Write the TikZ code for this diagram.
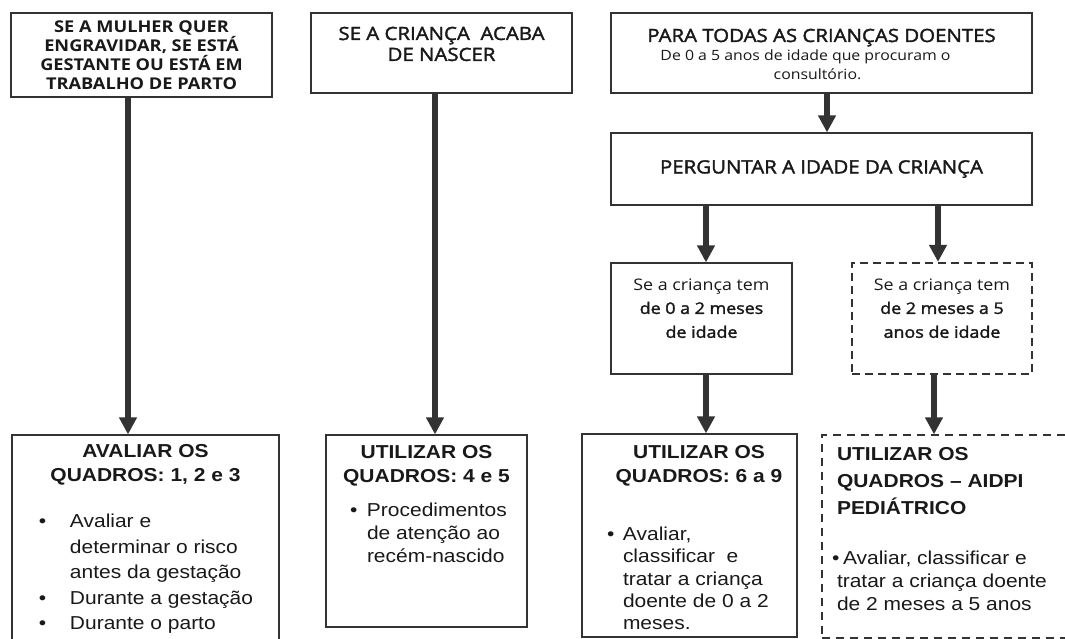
\documentclass[tikz,border=0pt]{standalone}
\usepackage{fontspec}
\setmainfont{Liberation Sans}[FakeStretch=1.12]
\newfontfamily\osans{Open Sans}[FakeStretch=1.12]
\newfontfamily\osmed{Open Sans}[FakeStretch=1.12,FakeBold=2]
\usetikzlibrary{arrows.meta}

\begin{document}
\begin{tikzpicture}[
  box/.style={draw=black!80,line width=1.2bp,inner sep=0pt,text=black!90},
  dbox/.style={box,line width=2.2bp,dash pattern=on 8bp off 5bp},
  tbox/.style={box,line width=1.3bp,dash pattern=on 8bp off 6bp},
  flow/.style={draw=black!80,line width=6.5bp,-{Triangle[length=17bp,width=17bp]}}]
\useasboundingbox (0,0) rectangle (1065bp,-639bp);
\clip (0,0) rectangle (1065bp,-639bp);

% columns of the arrows
\coordinate (c1) at (128bp,0);
\coordinate (c2) at (435bp,0);
\coordinate (c3) at (827bp,0);
\coordinate (c4) at (706bp,0);
\coordinate (c5) at (938bp,0);
\coordinate (c6) at (934bp,0);

% top row
\node (SM) at (141.5bp,-55bp)[box] {\parbox[c][84bp][t]{261bp}{\centering\osans\bfseries\fontsize{16.3}{19}\selectfont
  \rule{0pt}{20bp}SE A MULHER QUER\\ENGRAVIDAR, SE ESTÁ\\GESTANTE OU ESTÁ EM\\TRABALHO DE PARTO}};
\node (RN) at (441.5bp,-53bp)[box] {\parbox[c][80bp][t]{261bp}{\centering\osmed\fontsize{18.3}{21}\selectfont
  \rule{0pt}{27bp}SE A CRIANÇA\ \ ACABA\\DE NASCER}};
\node (TD) at (821.5bp,-53bp)[box] {\parbox[c][80bp][t]{421bp}{\centering\fontsize{16}{19}\selectfont
  \rule{0pt}{29bp}{\osmed\fontsize{18.3}{19}\selectfont PARA TODAS AS CRIANÇAS DOENTES}\\{\osans\fontsize{14.2}{19}\selectfont
  \hspace*{-32bp}De 0 a 5 anos de idade que procuram o\\\hspace*{-8bp}consultório.}}};
\node (PI) at (821.5bp,-169bp)[box,minimum width=421bp,minimum height=72bp] {\osmed\fontsize{18.3}{19}\selectfont PERGUNTAR A IDADE DA CRIANÇA};

% age boxes
\node (CA) at (701.5bp,-318.5bp)[box] {\parbox[c][111bp][t]{181bp}{\centering\fontsize{16}{24}\selectfont
  \rule{0pt}{27bp}{\osans Se a criança tem}\\{\osmed de 0 a 2 meses\\de idade}}};
\node (CB) at (942bp,-318.5bp)[dbox] {\parbox[c][111bp][t]{180bp}{\centering\fontsize{16}{24}\selectfont
  \rule{0pt}{27bp}{\osans Se a criança tem}\\{\osmed de 2 meses a 5\\anos de idade}}};

% bottom row
\node (QA) at (145.5bp,-555bp)[box] {\parbox[c][240bp][t]{267bp}{\fontsize{18.8}{25}\selectfont
  {\centering\bfseries\rule{0pt}{22bp}AVALIAR OS\\QUADROS: 1, 2 e 3\par}
  \vspace{20.5bp}\fontsize{18.8}{25.5}\selectfont
  \begin{tabular}[t]{@{\hspace*{27bp}}p{31bp}@{}l@{}}
  \textbullet & Avaliar e\\ & determinar o risco\\ & antes da gestação\\
  \textbullet & Durante a gestação\\ \textbullet & Durante o parto
  \end{tabular}}};
\node (QB) at (426.5bp,-531bp)[box] {\parbox[c][192bp][t]{201bp}{\fontsize{18.8}{25}\selectfont
  {\centering\bfseries\rule{0pt}{23bp}UTILIZAR OS\\QUADROS: 4 e 5\par}
  \vspace{11bp}\fontsize{18.8}{23}\selectfont
  \begin{tabular}[t]{@{\hspace*{24bp}}p{17bp}@{}l@{}}
  \textbullet & Procedimentos\\ & de atenção ao\\ & recém-nascido
  \end{tabular}}};
\node (QC) at (689.5bp,-535.5bp)[box] {\parbox[c][203bp][t]{215bp}{\fontsize{18.8}{25}\selectfont
  {\centering\bfseries\rule{0pt}{24bp}\hspace*{19bp}UTILIZAR OS\\\hspace*{19bp}QUADROS: 6 a 9\par}
  \vspace{35bp}\fontsize{18.8}{22.5}\selectfont
  \begin{tabular}[t]{@{\hspace*{25bp}}p{16bp}@{}l@{}}
  \textbullet & Avaliar,\\ & classificar\ \ e\\ & tratar a criança\\ & doente de 0 a 2\\ & meses.
  \end{tabular}}};
\node (QD) at (951bp,-536.5bp)[tbox] {\parbox[c][203bp][t]{258bp}{\raggedright\fontsize{18.8}{27.5}\selectfont
  {\bfseries\rule{0pt}{25bp}\hspace*{15bp}UTILIZAR OS\\\hspace*{15bp}QUADROS – AIDPI\\\hspace*{15bp}PEDIÁTRICO\par}
  \vspace{27bp}\fontsize{18.8}{23}\selectfont
  \hspace*{10bp}\makebox[11bp][l]{\textbullet}Avaliar, classificar e\\\hspace*{15bp}tratar a criança doente\\\hspace*{15bp}de 2 meses a 5 anos}};

% arrows
\draw[flow] (SM.south -| c1) -- (QA.north -| c1);
\draw[flow] (RN.south -| c2) -- (QB.north -| c2);
\draw[flow] (TD.south -| c3) -- (PI.north -| c3);
\draw[flow] (PI.south -| c4) -- (CA.north -| c4);
\draw[flow] (PI.south -| c5) -- (CB.north -| c5);
\draw[flow] (CA.south -| c4) -- (QC.north -| c4);
\draw[flow] (CB.south -| c6) -- (QD.north -| c6);
\end{tikzpicture}
\end{document}
